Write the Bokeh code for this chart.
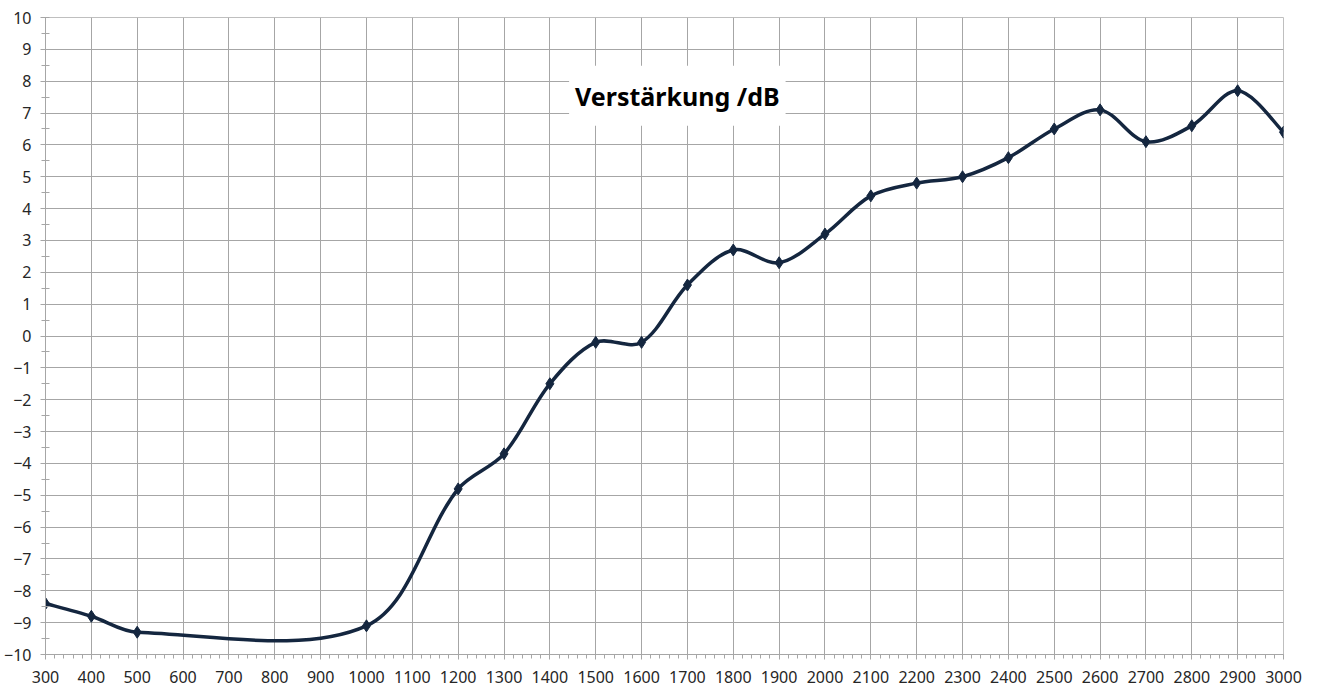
from bokeh.plotting import figure
from bokeh.models import Range1d, SingleIntervalTicker, Label, ColumnDataSource
from bokeh.embed import file_html
from bokeh.resources import INLINE
import math

freq = [300, 400, 500, 1000, 1200, 1300, 1400, 1500, 1600, 1700, 1800, 1900,
        2000, 2100, 2200, 2300, 2400, 2500, 2600, 2700, 2800, 2900, 3000]
gain = [-8.4, -8.8, -9.3, -9.1, -4.8, -3.7, -1.5, -0.2, -0.2, 1.6, 2.7, 2.3,
        3.2, 4.4, 4.8, 5.0, 5.6, 6.5, 7.1, 6.1, 6.6, 7.7, 6.4]
title_text = "Verstärkung /dB"

W, H = 1319, 688
BL, BR, BT, BB = 45, 36, 17, 34
X0, X1, Y0, Y1 = 300, 3000, -10, 10
sx = (W - BL - BR) / (X1 - X0)
sy = (H - BT - BB) / (Y1 - Y0)

# smoothed line: Bezier segments with chord-length scaled tangents (screen space)
n = len(freq)
def dist(i, j):
    return math.hypot((freq[j] - freq[i]) * sx, (gain[j] - gain[i]) * sy)

seg = dict(x0=[], y0=[], x1=[], y1=[], cx0=[], cy0=[], cx1=[], cy1=[])
for i in range(n - 1):
    a, b = max(i - 1, 0), min(i + 2, n - 1)
    d01 = dist(a, i) if a != i else 0.0
    d12 = dist(i, i + 1)
    d23 = dist(i + 1, b) if b != i + 1 else 0.0
    f1 = d12 / (d01 + d12) / 3 if d01 > 0 else 1 / 6
    f2 = d12 / (d12 + d23) / 3 if d23 > 0 else 1 / 6
    seg["x0"].append(freq[i]); seg["y0"].append(gain[i])
    seg["x1"].append(freq[i + 1]); seg["y1"].append(gain[i + 1])
    seg["cx0"].append(freq[i] + (freq[i + 1] - freq[a]) * f1)
    seg["cy0"].append(gain[i] + (gain[i + 1] - gain[a]) * f1)
    seg["cx1"].append(freq[i + 1] - (freq[b] - freq[i]) * f2)
    seg["cy1"].append(gain[i + 1] - (gain[b] - gain[i]) * f2)

GRID = "#a6a6a6"
LINE = "#14263f"
FONT = "Noto Sans"

p = figure(width=W, height=H, output_backend="svg", toolbar_location=None,
           x_range=Range1d(X0, X1), y_range=Range1d(Y0, Y1),
           min_border_left=BL, min_border_right=BR, min_border_top=BT, min_border_bottom=BB)
p.background_fill_color = "white"
p.border_fill_color = "white"
p.outline_line_color = "#bfbfbf"

p.xaxis.ticker = SingleIntervalTicker(interval=100, num_minor_ticks=5)
p.yaxis.ticker = SingleIntervalTicker(interval=1, num_minor_ticks=2)
for ax in (p.xaxis, p.yaxis):
    ax.axis_line_color = GRID
    ax.major_tick_line_color = GRID
    ax.minor_tick_line_color = GRID
    ax.major_tick_out = 5
    ax.major_tick_in = 0
    ax.major_label_text_font = FONT
    ax.major_label_text_font_size = "16px"
    ax.major_label_text_color = "#262626"
p.xaxis.minor_tick_out = 4
p.xaxis.minor_tick_in = 0
p.yaxis.minor_tick_out = 4
p.yaxis.minor_tick_in = 4
p.xaxis.major_label_standoff = 11
p.yaxis.major_label_standoff = 9

p.xgrid.grid_line_color = GRID
p.ygrid.grid_line_color = GRID
p.xgrid.ticker = p.xaxis.ticker
p.ygrid.ticker = p.yaxis.ticker

p.bezier(x0="x0", y0="y0", x1="x1", y1="y1", cx0="cx0", cy0="cy0", cx1="cx1", cy1="cy1",
         source=ColumnDataSource(seg), line_color=LINE, line_width=3.5)
p.scatter(freq, gain, marker="diamond", size=12, fill_color=LINE, line_color=LINE)

lbl = Label(x=1678, y=7.54, text=title_text, text_align="center", text_baseline="middle",
            text_font=FONT, text_font_style="bold", text_font_size="25px", text_color="black",
            background_fill_color="white", padding=dict(left=6, right=6, top=13, bottom=13))
p.add_layout(lbl)

open("out.html", "w").write(file_html(p, INLINE))
